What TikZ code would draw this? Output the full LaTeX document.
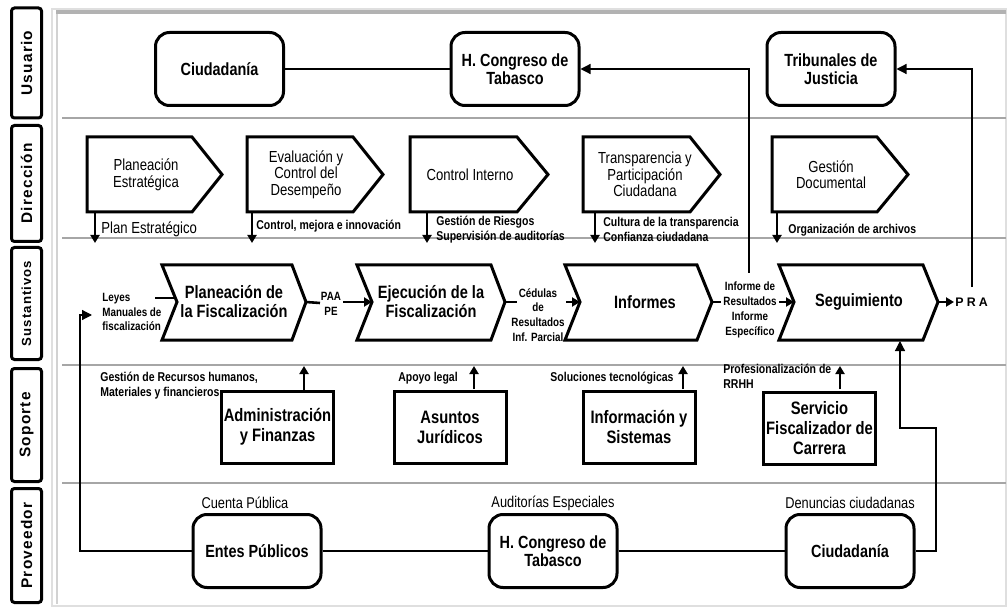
\documentclass[tikz,border=0pt]{standalone}
\usepackage{fontspec}
\setmainfont[FakeStretch=0.82]{Liberation Sans}
\newfontfamily\lanefont[LetterSpace=8]{Liberation Sans}
\newfontfamily\spacedfont[LetterSpace=25]{Liberation Sans}
\usetikzlibrary{arrows.meta,calc}
\tikzset{
 shp/.style={draw=black, line width=1.5pt, line join=miter},
 ubox/.style={draw, line width=1.5pt, rounded corners=7pt, minimum width=64pt, minimum height=36.5pt, align=center, inner sep=2pt, font=\bfseries\fontsize{8.8}{9.2}\selectfont},
 sbox/.style={draw, line width=1.5pt, minimum width=56pt, minimum height=36pt, align=center, inner sep=1pt, font=\bfseries\fontsize{9}{10}\selectfont},
 pt/.style={align=center, inner sep=0pt, font=\fontsize{8}{8.3}\selectfont},
 ct/.style={align=center, inner sep=0pt, font=\bfseries\fontsize{8.9}{9.5}\selectfont},
 lbl/.style={inner sep=0pt, font=\bfseries\fontsize{6.4}{7.4}\selectfont, align=left},
 slbl/.style={inner sep=0pt, font=\bfseries\fontsize{6}{7.4}\selectfont, align=center},
 plbl/.style={inner sep=0pt, font=\fontsize{7.8}{8}\selectfont},
 lane/.style={draw, line width=1.5pt, rounded corners=1.5pt, rotate=90, minimum height=15pt, inner sep=0pt, font=\lanefont\bfseries\fontsize{7.7}{8}\selectfont},
 sep/.style={draw=gray!70, line width=1pt},
 conn/.style={draw, line width=0.6pt},
 arr/.style={conn, -{Triangle[length=5pt,width=5pt]}},
 thk/.style={draw, line width=1.3pt, -{Triangle[length=4pt,width=4.5pt]}},
 stub/.style={draw, line width=1.3pt},
}
\begin{document}
\begin{tikzpicture}[x=0.5pt,y=-0.5pt]
\useasboundingbox (0,0) rectangle (1008,610);
\fill[white] (0,0) rectangle (1008,610);
% frame
\draw[gray!25, line width=0.8pt] (52,9) rectangle (1006,606);
\draw[gray!35, line width=0.8pt] (57,13) -- (57,604);
\draw[gray!60, line width=1.6pt] (56,12) -- (1006,12);
% separators
\draw[sep] (62,118) -- (1006,118);
\draw[sep] (62,238) -- (1006,238);
\draw[sep] (62,365) -- (1006,365);
\draw[sep] (62,483) -- (1006,483);
% lanes
\node[lane, minimum width=55pt] (l1) at (26.5,63) {Usuario};
\node[lane, minimum width=58pt] (l2) at (26.5,183.5) {Dirección};
\node[lane, minimum width=56pt, font=\lanefont\bfseries\fontsize{6.6}{7}\selectfont] (l3) at (26.5,303.5) {Sustantivos};
\node[lane, minimum width=56.5pt] (l4) at (26.5,425) {Soporte};
\node[lane, minimum width=57pt] (l5) at (26.5,545.5) {Proveedor};

% Usuario
\node[ubox] (uciu) at (219.5,69) {Ciudadanía};
\node[ubox] (ucong) at (515,69) {H. Congreso de\\Tabasco};
\node[ubox] (utrib) at (831,69) {Tribunales de\\Justicia};
\draw[conn] (uciu.east) -- (ucong.west);

% Direccion pentagons
\draw[shp] (87,137) -- (192,137) -- (222,174.5) -- (192,212) -- (87,212) -- cycle;
\node[pt] (pe1) at (146,174.5) {Planeación\\Estratégica};
\draw[shp] (247,137) -- (353,137) -- (383,174.5) -- (353,212) -- (247,212) -- cycle;
\node[pt] (pe2) at (306,174.5) {Evaluación y\\Control del\\Desempeño};
\draw[shp] (410,137) -- (517,137) -- (548,174.5) -- (517,212) -- (410,212) -- cycle;
\node[pt] (pe3) at (470,174.5) {Control Interno};
\draw[shp] (583,137) -- (690,137) -- (720,174.5) -- (690,212) -- (583,212) -- cycle;
\node[pt] (pe4) at (645,174.5) {Transparencia y\\Participación\\Ciudadana};
\draw[shp] (772,137) -- (877,137) -- (908,174.5) -- (877,212) -- (772,212) -- cycle;
\node[pt] (pe5) at (831,174.5) {Gestión\\Documental};

\coordinate (pe1a) at (95,212);  \coordinate (pe1b) at (95,243);
\coordinate (pe2a) at (252,212); \coordinate (pe2b) at (252,243);
\coordinate (pe3a) at (427,212); \coordinate (pe3b) at (427,243);
\coordinate (pe4a) at (595,212); \coordinate (pe4b) at (595,243);
\coordinate (pe5a) at (777,212); \coordinate (pe5b) at (777,243);
\draw[thk] (pe1a) -- (pe1b);
\draw[thk] (pe2a) -- (pe2b);
\draw[thk] (pe3a) -- (pe3b);
\draw[thk] (pe4a) -- (pe4b);
\draw[thk] (pe5a) -- (pe5b);
\node[plbl, anchor=west, font=\fontsize{8}{8}\selectfont] (d1) at (101,229) {Plan Estratégico};
\node[lbl, anchor=west] (d2) at (256,226) {Control, mejora e innovación};
\node[lbl, anchor=west] (d3) at (436,229.5) {Gestión de Riesgos\\Supervisión de auditorías};
\node[lbl, anchor=west] (d4) at (603,229.5) {Cultura de la transparencia\\Confianza ciudadana};
\node[lbl, anchor=west] (d5) at (788,230) {Organización de archivos};

% Sustantivos chevrons
\draw[shp] (162,265) -- (292,265) -- (306,302) -- (292,340) -- (162,340) -- (177,302) -- cycle;
\node[ct] (s1) at (234,302) {Planeación de\\la Fiscalización};
\draw[shp] (357,265) -- (491,265) -- (505,302) -- (491,340) -- (357,340) -- (372,302) -- cycle;
\node[ct] (s2) at (431,302) {Ejecución de la\\Fiscalización};
\draw[shp] (565,265) -- (697,265) -- (712,302) -- (697,340) -- (565,340) -- (580,302) -- cycle;
\node[ct] (s3) at (645,302) {Informes};
\draw[shp] (779,265) -- (923,265) -- (938,302) -- (923,340) -- (779,340) -- (794,302) -- cycle;
\node[ct] (s4) at (859,302) {Seguimiento};

\coordinate (s1n) at (175,298); \coordinate (s1t) at (306,302);
\coordinate (s2n) at (372,302); \coordinate (s2t) at (505,302);
\coordinate (s3n) at (580,302); \coordinate (s3t) at (712,302);
\coordinate (s4n) at (794,302); \coordinate (s4t) at (938,302);

\node[slbl, align=left, anchor=west] (leyes) at (102,312) {Leyes\\Manuales de\\fiscalización};
\coordinate (leyesr) at (155,298);
\draw[stub] (leyesr) -- (s1n);

\node[slbl] (paa) at (331,304) {PAA\\PE};
\coordinate (paal) at (320,303); \coordinate (paar) at (343,302);
\draw[stub] (s1t) -- (paal);
\draw[thk] (paar) -- (s2n);

\node[slbl] (ced) at (538,315) {Cédulas\\de\\Resultados\\Inf. Parcial};
\coordinate (cedl) at (517,302); \coordinate (cedr) at (566,302);
\draw[stub] (s2t) -- (cedl);
\draw[thk] (cedr) -- (s3n);

\node[slbl] (infr) at (750,310) {Informe de\\Resultados\\Informe\\Específico};
\coordinate (infl) at (721,302); \coordinate (infrr) at (779,302);
\draw[stub] (s3t) -- (infl);
\draw[thk] (infrr) -- (s4n);

\coordinate (prat) at (954,302);
\draw[thk] (s4t) -- (prat);
\node[anchor=west, inner sep=0pt, font=\spacedfont\bfseries\fontsize{6.2}{7}\selectfont] (pra) at (955,302) {PRA};

% Soporte
\node[sbox] (so1) at (277.5,427) {Administración\\y Finanzas};
\node[sbox] (so2) at (450,427) {Asuntos\\Jurídicos};
\node[sbox] (so3) at (639,427) {Información y\\Sistemas};
\node[sbox] (so4) at (819.5,428) {Servicio\\Fiscalizador de\\Carrera};
\coordinate (so1a) at (304,390); \coordinate (so1b) at (304,366);
\coordinate (so2a) at (474,389); \coordinate (so2b) at (474,366);
\coordinate (so3a) at (683,389); \coordinate (so3b) at (683,366);
\coordinate (so4a) at (840,389); \coordinate (so4b) at (840,366);
\draw[thk] (so1a) -- (so1b);
\draw[thk] (so2a) -- (so2b);
\draw[thk] (so3a) -- (so3b);
\draw[thk] (so4a) -- (so4b);
\node[lbl, anchor=west] (g1) at (100,385.5) {Gestión de Recursos humanos,\\Materiales y financieros};
\node[lbl] (g2) at (428,378) {Apoyo legal};
\node[lbl] (g3) at (612,378) {Soluciones tecnológicas};
\node[lbl, anchor=west] (g4) at (723,376.5) {Profesionalización de\\RRHH};

% Proveedor
\node[ubox] (pent) at (257,551) {Entes Públicos};
\node[ubox] (pcong) at (553,551) {H. Congreso de\\Tabasco};
\node[ubox] (pciu) at (850,551) {Ciudadanía};
\node[plbl] (c1) at (245,503) {Cuenta Pública};
\node[plbl] (c2) at (553,503) {Auditorías Especiales};
\node[plbl] (c3) at (850,503) {Denuncias ciudadanas};
\draw[conn] (pent.east) -- (pcong.west);
\draw[conn] (pcong.east) -- (pciu.west);

% long connectors
\coordinate (leyin) at (92,315);
\draw[arr] (pent.west) -| (80,315) -- (leyin);
\coordinate (segin) at (900,341);
\draw[arr] (pciu.east) -| (936,428) -| (segin);
\coordinate (inftop) at (749,273);
\draw[arr] (inftop) |- (ucong.east);
\coordinate (pratop) at (972,287);
\draw[arr] (pratop) |- (utrib.east);
\end{tikzpicture}
\end{document}
